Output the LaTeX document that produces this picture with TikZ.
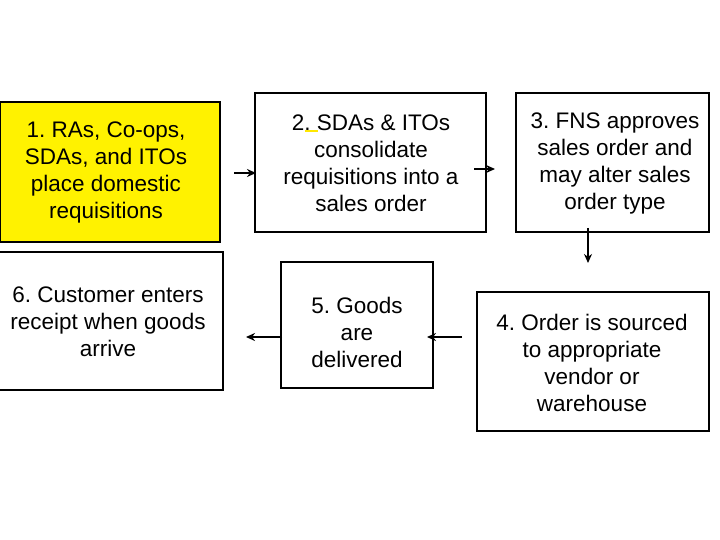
\documentclass[tikz,border=0pt]{standalone}
\usepackage{fontspec}
\setmainfont{Liberation Sans}
\usetikzlibrary{arrows.meta}
\begin{document}
\frenchspacing
\begin{tikzpicture}[x=1pt,y=-1pt,
  box/.style={draw=black,line width=1.2pt},
  txt/.style={align=center,font=\fontsize{22.5}{27}\selectfont,inner sep=0pt},
  arr/.style={draw=black,line width=1.6pt,-{Stealth[length=9pt,width=8pt]}}]
\useasboundingbox (0,0) rectangle (720,540);
\draw[box,fill=yellow] (0,102) rectangle (220,242);
\draw[box] (255,93) rectangle (486,232);
\draw[box] (516,93) rectangle (709,232);
\draw[box] (477,292) rectangle (709,431);
\draw[box] (281,262) rectangle (433,388);
\draw[box] (-2,252) rectangle (223,390);
\node[txt] (n1) at (106,172) {1. RAs, Co-ops,\\SDAs, and ITOs\\place domestic\\requisitions};
\node[txt] (n2) at (371,163) {2. SDAs \& ITOs\\consolidate\\requisitions into a\\sales order};
\node[txt] (n3) at (615,163) {3. FNS approves\\sales order and\\may alter sales\\order type};
\node[txt] (n4) at (592,363) {4. Order is sourced\\to appropriate\\vendor or\\warehouse};
\node[txt] (n5) at (357,332) {5. Goods\\are\\delivered};
\node[txt] (n6) at (108,322) {6. Customer enters\\receipt when goods\\arrive};
\draw[yellow!90!orange,line width=2pt] (305,131) -- (318,131);
\coordinate (a1) at (234,173); \coordinate (b1) at (256,173);
\coordinate (a2) at (474,169); \coordinate (b2) at (495,169);
\coordinate (a3) at (588,228); \coordinate (b3) at (588,263);
\coordinate (a4) at (462,337); \coordinate (b4) at (427,337);
\coordinate (a5) at (282,337); \coordinate (b5) at (246,337);
\draw[arr] (a1) -- (b1);
\draw[arr] (a2) -- (b2);
\draw[arr] (a3) -- (b3);
\draw[arr] (a4) -- (b4);
\draw[arr] (a5) -- (b5);
\end{tikzpicture}
\end{document}
